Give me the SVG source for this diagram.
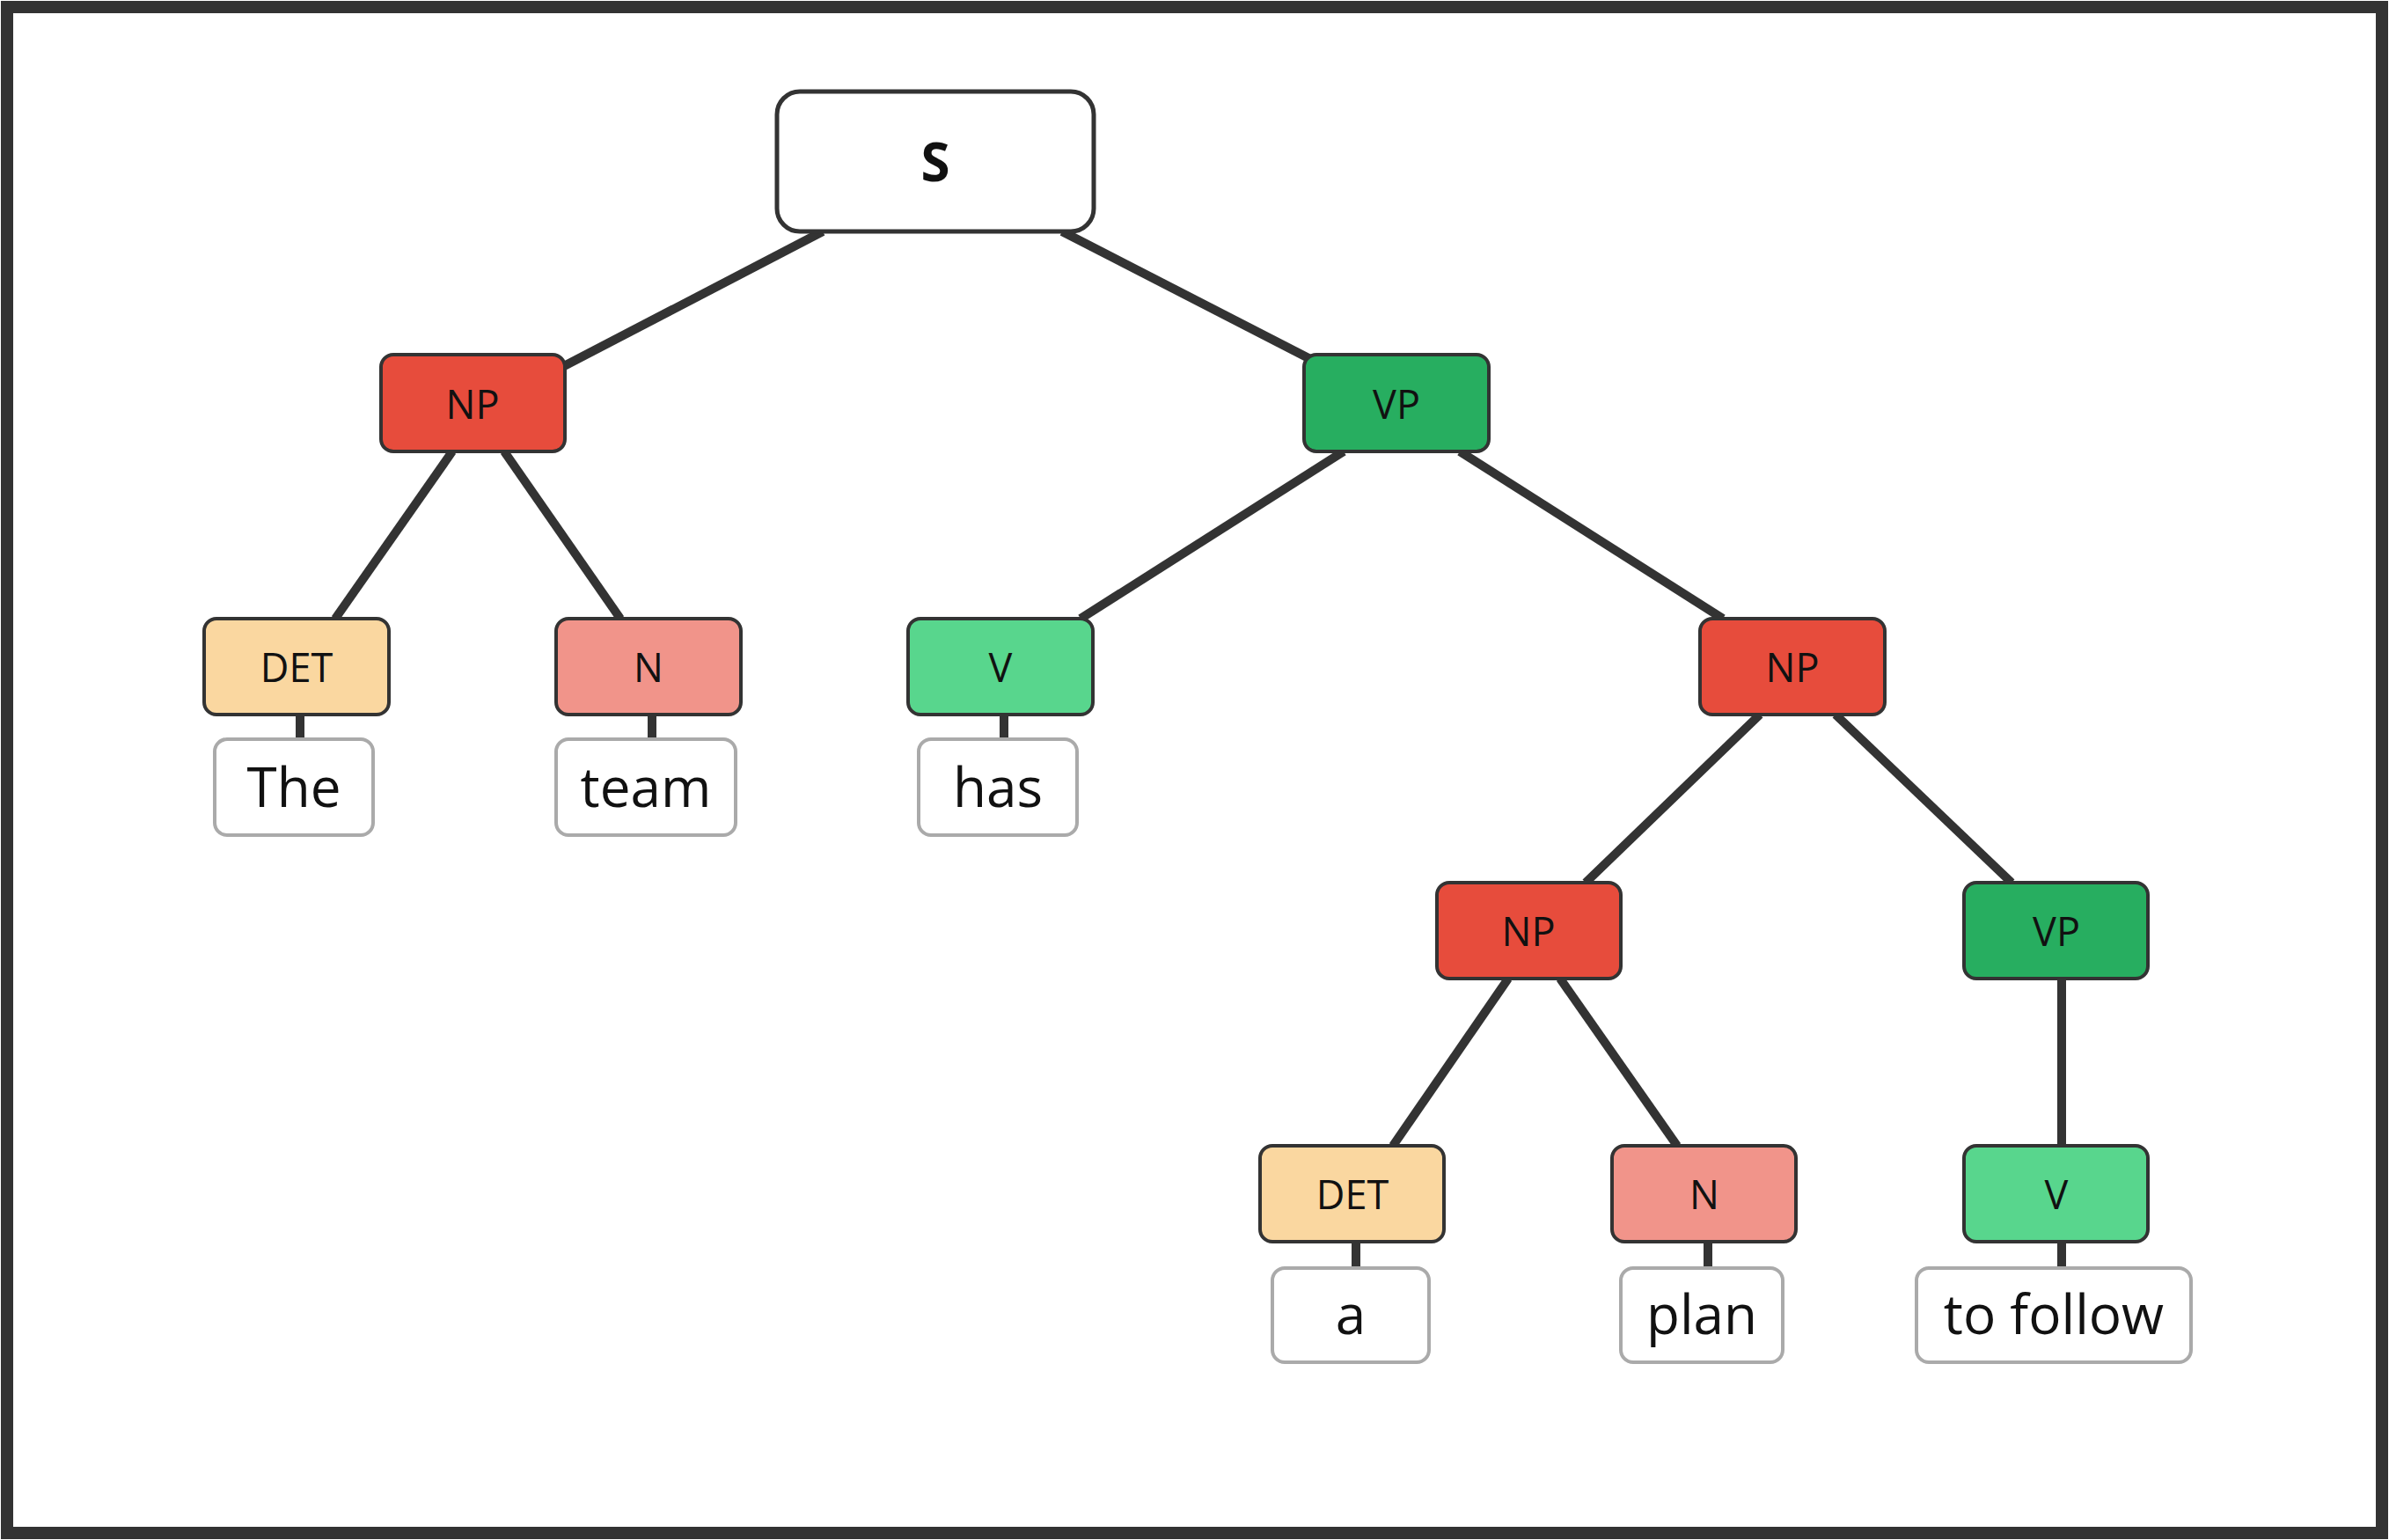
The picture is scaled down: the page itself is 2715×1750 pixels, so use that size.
<svg xmlns="http://www.w3.org/2000/svg" width="2715" height="1750" viewBox="0 0 2715 1750">
<style>
.n{stroke:#333;stroke-width:4}
.w{fill:#fff;stroke:#aaa;stroke-width:4}
.l{font-family:"Open Sans","DejaVu Sans",sans-serif;font-size:45px;fill:#111;text-anchor:middle;dominant-baseline:central}
.t{font-family:"Open Sans","DejaVu Sans",sans-serif;font-size:62px;fill:#111;text-anchor:middle;dominant-baseline:central}
.NP{fill:#e74c3c}.VP{fill:#27ae60}.V{fill:#58d68d}.DET{fill:#fad7a0}.N{fill:#f1948a}
#edges line{stroke:#333;stroke-width:10}
</style>
<rect x="0" y="0" width="2715" height="1750" fill="#fff"/>
<rect x="8" y="8" width="2699" height="1734" fill="none" stroke="#333" stroke-width="14"/>
<g id="edges">
<line x1="935" y1="263" x2="641" y2="416"/>
<line x1="1207" y1="263" x2="1493" y2="410"/>
<line x1="514" y1="513" x2="381" y2="703"/>
<line x1="573" y1="513" x2="705" y2="703"/>
<line x1="1527" y1="513" x2="1228" y2="703"/>
<line x1="1659" y1="513" x2="1958" y2="703"/>
<line x1="2000" y1="812" x2="1802" y2="1003"/>
<line x1="2086" y1="812" x2="2286" y2="1003"/>
<line x1="1714" y1="1112" x2="1583" y2="1302"/>
<line x1="1773" y1="1112" x2="1906" y2="1302"/>
<line x1="2343" y1="1112" x2="2343" y2="1302"/>
<line x1="341" y1="812" x2="341" y2="842"/>
<line x1="741" y1="812" x2="741" y2="842"/>
<line x1="1141" y1="812" x2="1141" y2="842"/>
<line x1="1541" y1="1411" x2="1541" y2="1443"/>
<line x1="1941" y1="1411" x2="1941" y2="1443"/>
<line x1="2343" y1="1411" x2="2343" y2="1443"/>
</g>
<g id="S"><rect x="883" y="104" width="360" height="159" rx="26" fill="#fff" stroke="#333" stroke-width="5"/><text class="l" x="1063" y="183" style="font-size:60px;font-weight:bold">S</text></g>
<g id="NP1"><rect class="n NP" x="433" y="403" width="209" height="110" rx="14"/><text class="l" x="537" y="458">NP</text></g>
<g id="VP1"><rect class="n VP" x="1482" y="403" width="210" height="110" rx="14"/><text class="l" x="1587" y="458">VP</text></g>
<g id="DET1"><rect class="n DET" x="232" y="703" width="210" height="109" rx="14"/><text class="l" x="337" y="757">DET</text></g>
<g id="N1"><rect class="n N" x="632" y="703" width="210" height="109" rx="14"/><text class="l" x="737" y="757">N</text></g>
<g id="V1"><rect class="n V" x="1032" y="703" width="210" height="109" rx="14"/><text class="l" x="1137" y="757">V</text></g>
<g id="NP2"><rect class="n NP" x="1932" y="703" width="210" height="109" rx="14"/><text class="l" x="2037" y="757">NP</text></g>
<g id="NP3"><rect class="n NP" x="1633" y="1003" width="209" height="109" rx="14"/><text class="l" x="1737" y="1057">NP</text></g>
<g id="VP2"><rect class="n VP" x="2232" y="1003" width="209" height="109" rx="14"/><text class="l" x="2337" y="1057">VP</text></g>
<g id="DET2"><rect class="n DET" x="1432" y="1302" width="209" height="109" rx="14"/><text class="l" x="1537" y="1356">DET</text></g>
<g id="N2"><rect class="n N" x="1832" y="1302" width="209" height="109" rx="14"/><text class="l" x="1937" y="1356">N</text></g>
<g id="V2"><rect class="n V" x="2232" y="1302" width="209" height="109" rx="14"/><text class="l" x="2337" y="1356">V</text></g>
<g id="w-The"><rect class="w" x="244" y="840" width="180" height="109" rx="14"/><text class="t" x="334" y="893">The</text></g>
<g id="w-team"><rect class="w" x="632" y="840" width="204" height="109" rx="14"/><text class="t" x="734" y="893">team</text></g>
<g id="w-has"><rect class="w" x="1044" y="840" width="180" height="109" rx="14"/><text class="t" x="1134" y="893">has</text></g>
<g id="w-a"><rect class="w" x="1446" y="1441" width="178" height="107" rx="14"/><text class="t" x="1535" y="1492">a</text></g>
<g id="w-plan"><rect class="w" x="1842" y="1441" width="184" height="107" rx="14"/><text class="t" x="1934" y="1492">plan</text></g>
<g id="w-tofollow"><rect class="w" x="2178" y="1441" width="312" height="107" rx="14"/><text class="t" x="2334" y="1492">to follow</text></g>
</svg>
